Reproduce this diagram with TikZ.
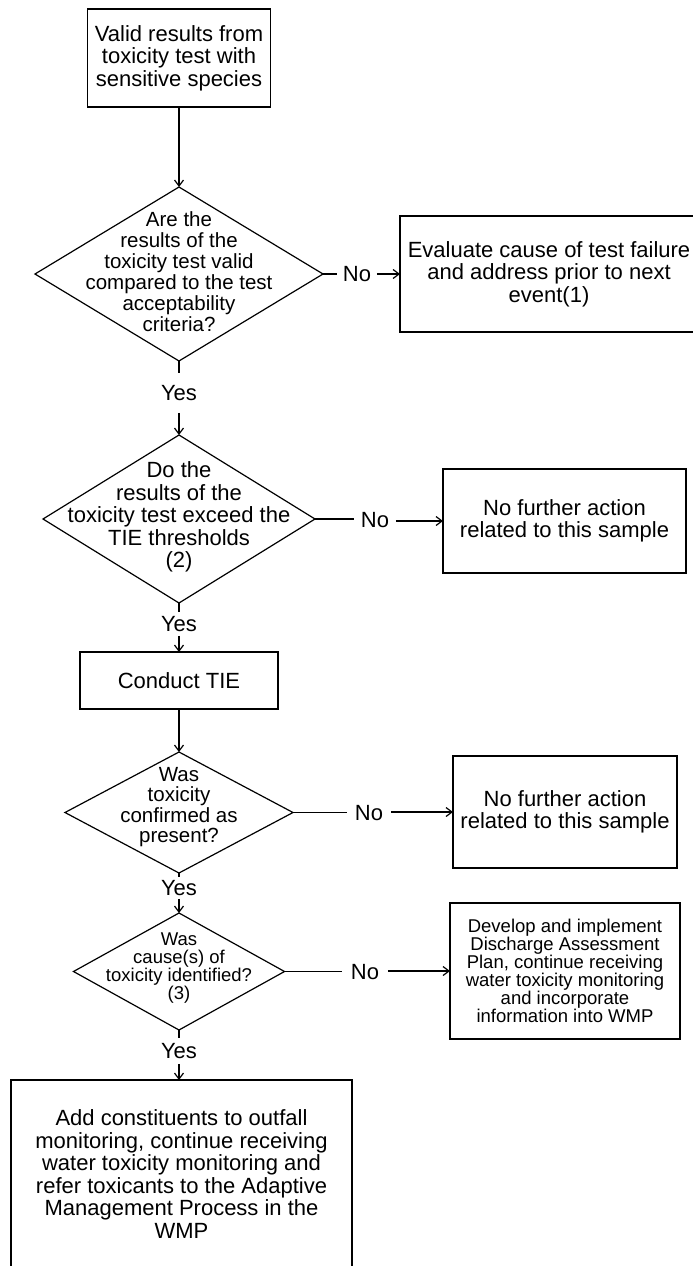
\documentclass[tikz,border=0pt]{standalone}
\usepackage{fontspec}
\setmainfont{Liberation Sans}
\usetikzlibrary{shapes.geometric,arrows.meta}
\newcommand\fsA{\fontsize{22}{22.5}\selectfont}
\newcommand\fsB{\fontsize{20.5}{21}\selectfont}
\newcommand\fsC{\fontsize{20.5}{20.5}\selectfont}
\newcommand\fsD{\fontsize{18.5}{18}\selectfont}
\begin{document}
\begin{tikzpicture}[x=1pt,y=1pt,
  box/.style={draw, line width=1.2pt, rectangle, inner sep=0pt, outer sep=0pt, align=center, font=\fsA},
  dia/.style={draw, line width=1.2pt, diamond, inner sep=0pt, outer sep=0pt},
  txt/.style={align=center, inner sep=0pt},
  lbl/.style={inner sep=0pt, font=\fsA},
  arr/.style={line width=1.2pt, -{Straight Barb[length=6pt,width=9pt]}},
  ln/.style={line width=1.2pt}]
\useasboundingbox (0,0) rectangle (693,-1266);
\clip (0,0) rectangle (693,-1266);
\fill[white] (0,0) rectangle (693,-1266);

% top box
\node[box, minimum width=183pt, minimum height=98pt] (top) at (179,-58)
  {Valid results from\\toxicity test with\\sensitive species};

% diamond 1
\node[dia, minimum width=288pt, minimum height=174pt] (d1) at (179,-274) {};
\node[txt, font=\fsB] (t1) at (179,-272)
  {Are the\\results of the\\toxicity test valid\\compared to the test\\acceptability\\criteria?};
\node[box, minimum width=298pt, minimum height=116pt] (e1) at (549,-274)
  {Evaluate cause of test failure\\and address prior to next\\event(1)};
\node[lbl, inner xsep=5.5pt] (n1) at (357,-274) {No};
\draw[ln] (d1.east) -- (n1.west);
\draw[arr] (n1.east) -- (e1.west);
\draw[arr] (top.south) -- (d1.north);
\node[lbl, inner ysep=12pt] (y1) at (179,-393) {Yes};
\draw[ln] (d1.south) -- (y1.north);

% diamond 2
\node[dia, minimum width=272pt, minimum height=168pt] (d2) at (179,-519) {};
\node[txt, font=\fsA] (t2) at (179,-517)
  {Do the\\results of the\\toxicity test exceed the\\TIE thresholds\\(2)};
\draw[arr] (y1.south) -- (d2.north);
\node[box, minimum width=243pt, minimum height=104pt] (r2) at (564.5,-521)
  {No further action\\related to this sample};
\node[lbl, inner xsep=6.5pt] (n2) at (375,-520) {No};
\draw[ln] (d2.east) -- (n2.west |- d2.east);
\draw[arr] (n2.east |- r2.west) -- (r2.west);
\node[lbl, inner ysep=4pt] (y2) at (179,-624) {Yes};
\draw[ln] (d2.south) -- (y2.north);

% conduct TIE
\node[box, minimum width=198pt, minimum height=57pt] (c1) at (179,-680.5) {Conduct TIE};
\draw[arr] (y2.south) -- (c1.north);

% diamond 3
\node[dia, minimum width=228pt, minimum height=121pt] (d3) at (179,-812.5) {};
\node[txt, font=\fsC] (t3) at (179,-807)
  {Was\\toxicity\\confirmed as\\present?};
\draw[arr] (c1.south) -- (d3.north);
\node[box, minimum width=224pt, minimum height=112pt] (r3) at (565,-812)
  {No further action\\related to this sample};
\node[lbl, inner xsep=8pt] (n3) at (369,-813) {No};
\draw[ln] (d3.east) -- (n3.west |- d3.east);
\draw[arr] (n3.east |- r3.west) -- (r3.west);
\node[lbl, inner ysep=3pt] (y3) at (179,-888) {Yes};
\draw[ln] (d3.south) -- (y3.north);

% diamond 4
\node[dia, minimum width=211pt, minimum height=117pt] (d4) at (179,-971.5) {};
\node[txt, font=\fsD] (t4) at (179,-968)
  {Was\\cause(s) of\\toxicity identified?\\(3)};
\draw[arr] (y3.south) -- (d4.north);
\node[box, font=\fsD, minimum width=230pt, minimum height=136pt] (r4) at (565,-971)
  {Develop and implement\\Discharge Assessment\\Plan, continue receiving\\water toxicity monitoring\\and incorporate\\information into WMP};
\node[lbl, inner xsep=8.5pt] (n4) at (365,-972) {No};
\draw[ln] (d4.east) -- (n4.west |- d4.east);
\draw[arr] (n4.east |- r4.west) -- (r4.west);
\node[lbl, inner ysep=5pt] (y4) at (179,-1051) {Yes};
\draw[ln] (d4.south) -- (y4.north);

% bottom box
\node[box, minimum width=341pt, minimum height=188pt] (b1) at (181.5,-1174)
  {Add constituents to outfall\\monitoring, continue receiving\\water toxicity monitoring and\\refer toxicants to the Adaptive\\Management Process in the\\WMP};
\draw[arr] (y4.south) -- (y4.south |- b1.north);
\end{tikzpicture}
\end{document}
